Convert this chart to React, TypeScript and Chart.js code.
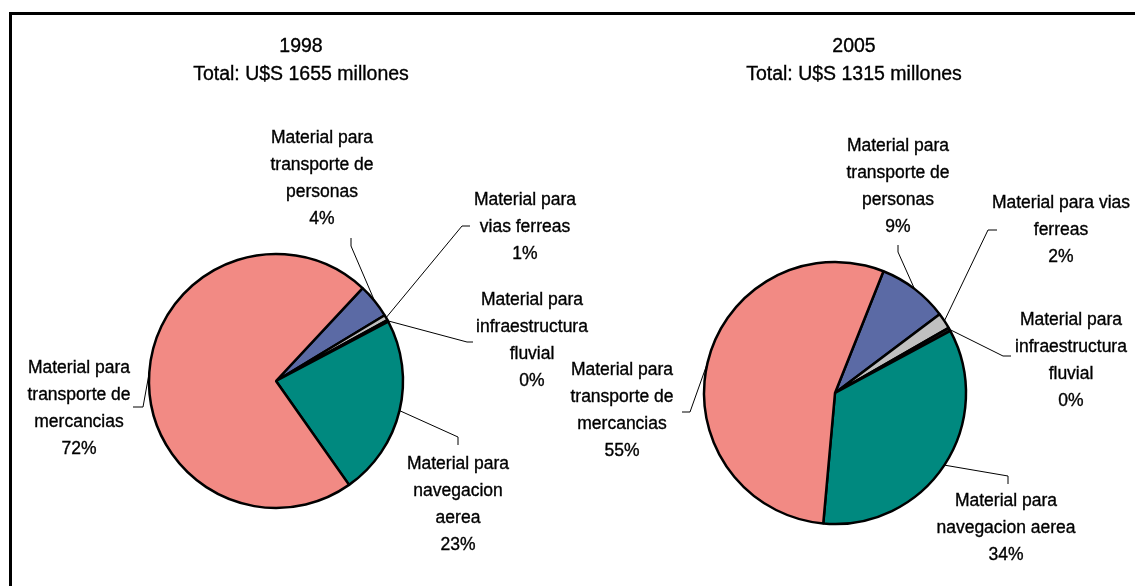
import React, { useEffect, useRef } from "react";
import { Chart, registerables } from "chart.js";

Chart.register(...registerables);

// ---- data ----
const categories = [
  "Material para transporte de personas",
  "Material para vias ferreas",
  "Material para infraestructura fluvial",
  "Material para navegacion aerea",
  "Material para transporte de mercancias",
];
const values1998 = [4.4, 0.7, 0.2, 23.0, 71.7];
const values2005 = [8.7, 2.0, 0.4, 34.3, 54.6];
const titles1998 = ["1998", "Total: U$S 1655 millones"];
const titles2005 = ["2005", "Total: U$S 1315 millones"];
const labelText1998 = [
  ["Material para", "transporte de", "personas"],
  ["Material para", "vias ferreas"],
  ["Material para", "infraestructura", "fluvial"],
  ["Material para", "navegacion", "aerea"],
  ["Material para", "transporte de", "mercancias"],
];
const labelText2005 = [
  ["Material para", "transporte de", "personas"],
  ["Material para vias", "ferreas"],
  ["Material para", "infraestructura", "fluvial"],
  ["Material para", "navegacion aerea"],
  ["Material para", "transporte de", "mercancias"],
];

// ---- style / layout ----
const colors = ["#5B6AA5", "#C0C0C0", "#222222", "#00897F", "#F28A84"];
const FONT = "Liberation Sans, Arial, sans-serif";
const LABEL_FONT = `17.5px ${FONT}`;
const TITLE_FONT = `19.5px ${FONT}`;
const LINE_H = 27;
const W = 1135;
const H = 586;

type Spec = {
  values: number[];
  lines: string[][];
  titles: string[];
  rotation: number;
  radius: number;
  padding: { left: number; right: number; top: number; bottom: number };
  titleX: number;
  titleY: number[];
  labelPos: number[][];
  leaders: number[][];
};

const spec1998: Spec = {
  values: values1998,
  lines: labelText1998,
  titles: titles1998,
  rotation: 43,
  radius: 127,
  padding: { left: 0, right: W - 2 * 276, top: 2 * 381 - H, bottom: 0 },
  titleX: 25,
  titleY: [47, 75],
  labelPos: [
    [46, -243],
    [249, -181],
    [256, -81],
    [182, 83],
    [-197, -13],
  ],
  leaders: [
    [75, -135, 75, -143],
    [186, -155, 194, -155],
    [191, -39, 197, -39],
    [182, 56, 182, 64],
    [-133, 26, -143, 26],
  ],
};

const spec2005: Spec = {
  values: values2005,
  lines: labelText2005,
  titles: titles2005,
  rotation: 21.7,
  radius: 131,
  padding: { left: 2 * 835 - W, right: 0, top: 2 * 393 - H, bottom: 0 },
  titleX: 19,
  titleY: [47, 75],
  labelPos: [
    [63, -247],
    [226, -190],
    [236, -73],
    [171, 108],
    [-213, -23],
  ],
  leaders: [
    [63, -141, 63, -148],
    [153, -163, 162, -163],
    [168, -37, 176, -37],
    [173, 83, 173, 91],
    [-145, 19, -153, 19],
  ],
};

function drawText(ctx: CanvasRenderingContext2D, t: string, x: number, y: number) {
  ctx.strokeText(t, x, y);
  ctx.fillText(t, x, y);
}

function makeLabelPlugin(spec: Spec) {
  return {
    id: "pieLabels",
    afterDatasetsDraw(chart: any) {
      const ctx = chart.ctx as CanvasRenderingContext2D;
      const meta = chart.getDatasetMeta(0);
      const first = meta.data[0] as any;
      const cx = first.x;
      const cy = first.y;
      ctx.save();
      ctx.strokeStyle = "#000";
      ctx.fillStyle = "#000";
      meta.data.forEach((el: any, i: number) => {
        const p = el.getProps(["startAngle", "endAngle", "outerRadius"], true);
        const mid = (p.startAngle + p.endAngle) / 2;
        const px = cx + p.outerRadius * Math.cos(mid);
        const py = cy + p.outerRadius * Math.sin(mid);
        const L = spec.leaders[i];
        ctx.lineWidth = 1;
        ctx.beginPath();
        ctx.moveTo(px, py);
        ctx.lineTo(cx + L[0], cy + L[1]);
        ctx.lineTo(cx + L[2], cy + L[3]);
        ctx.stroke();

        const pct = Math.round(spec.values[i]) + "%";
        const lines = [...spec.lines[i], pct];
        ctx.font = LABEL_FONT;
        ctx.textAlign = "center";
        ctx.textBaseline = "middle";
        ctx.lineWidth = 0.35;
        const pos = spec.labelPos[i];
        lines.forEach((t, k) => {
          drawText(ctx, t, cx + pos[0], cy + pos[1] + k * LINE_H);
        });
      });
      ctx.font = TITLE_FONT;
      ctx.textAlign = "center";
      ctx.textBaseline = "middle";
      ctx.lineWidth = 0.35;
      spec.titles.forEach((t, k) => {
        drawText(ctx, t, cx + spec.titleX, spec.titleY[k]);
      });
      ctx.restore();
    },
  };
}

function PieCanvas({ spec }: { spec: Spec }) {
  const ref = useRef<HTMLCanvasElement>(null);
  useEffect(() => {
    if (!ref.current) return;
    const chart = new Chart(ref.current, {
      type: "pie",
      data: {
        labels: categories,
        datasets: [
          {
            data: spec.values,
            backgroundColor: colors,
            borderColor: "#000",
            borderWidth: 2.5,
          },
        ],
      },
      options: {
        responsive: false,
        animation: false,
        events: [],
        rotation: spec.rotation,
        radius: spec.radius,
        layout: { padding: spec.padding },
        plugins: {
          legend: { display: false },
          tooltip: { enabled: false },
          title: { display: false },
        },
      } as any,
      plugins: [makeLabelPlugin(spec)],
    });
    return () => chart.destroy();
  }, [spec]);
  return (
    <canvas
      ref={ref}
      width={W}
      height={H}
      style={{ position: "absolute", left: 0, top: 0, width: W, height: H }}
    />
  );
}

export default function App() {
  return (
    <div
      style={{
        position: "absolute",
        left: 0,
        top: 0,
        width: W,
        height: H,
        overflow: "hidden",
        background: "#fff",
      }}
    >
      <PieCanvas spec={spec1998} />
      <PieCanvas spec={spec2005} />
      <div
        style={{
          position: "absolute",
          left: 9,
          top: 12,
          width: 1200,
          height: 700,
          border: "3px solid #000",
          boxSizing: "border-box",
          pointerEvents: "none",
        }}
      />
    </div>
  );
}
